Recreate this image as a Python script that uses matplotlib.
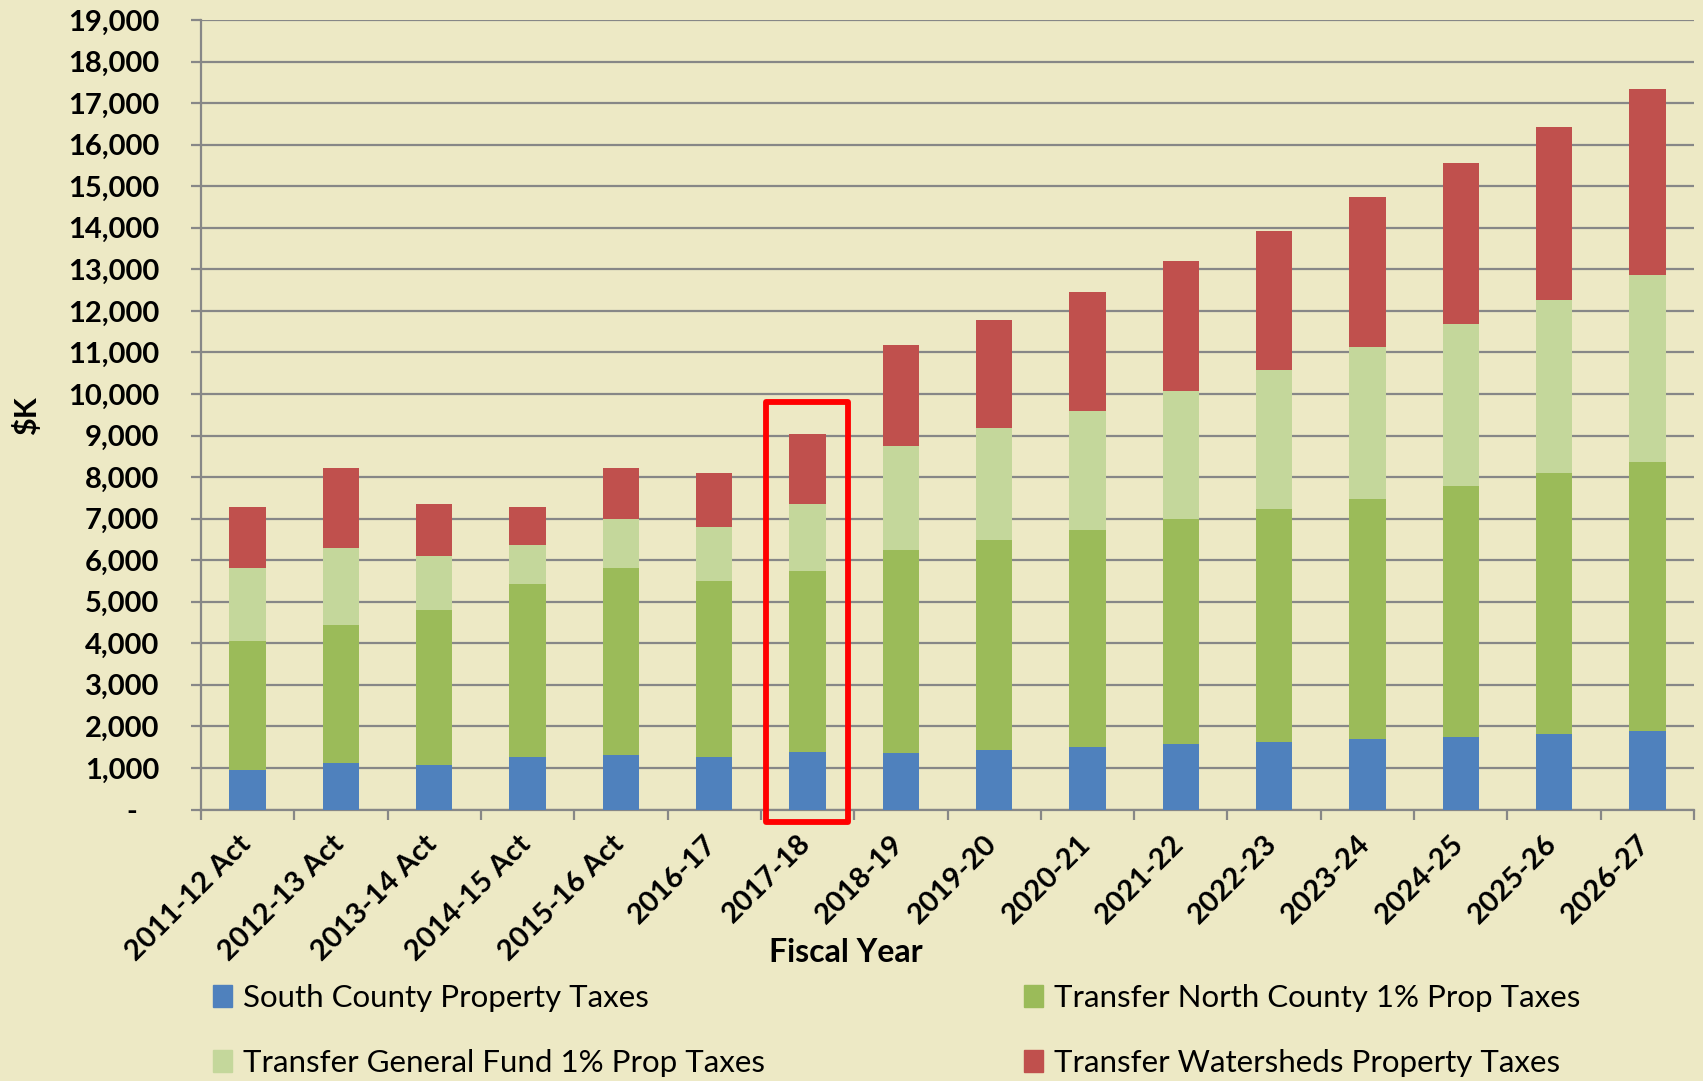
import matplotlib
matplotlib.use("Agg")
import matplotlib.pyplot as plt
import numpy as np
from matplotlib.patches import Rectangle, Patch
from matplotlib.ticker import FuncFormatter, FixedLocator
from matplotlib.transforms import ScaledTranslation

# data ($K)
years = ['2011-12 Act', '2012-13 Act', '2013-14 Act', '2014-15 Act', '2015-16 Act',
         '2016-17', '2017-18', '2018-19', '2019-20', '2020-21', '2021-22',
         '2022-23', '2023-24', '2024-25', '2025-26', '2026-27']
south_county = [950, 1130, 1070, 1260, 1310, 1260, 1380, 1370, 1430, 1500,
                1570, 1620, 1690, 1750, 1820, 1890]
north_county = [3110, 3300, 3720, 4160, 4490, 4230, 4350, 4870, 5060, 5230,
                5420, 5610, 5790, 6030, 6280, 6480]
general_fund = [1740, 1870, 1310, 940, 1190, 1310, 1620, 2510, 2680, 2860,
                3090, 3340, 3660, 3910, 4160, 4500]
watersheds = [1490, 1920, 1250, 930, 1240, 1300, 1690, 2420, 2620, 2860,
              3130, 3360, 3590, 3870, 4170, 4480]
highlight = '2017-18'

series = [
    ('South County Property Taxes', south_county, '#4F81BD'),
    ('Transfer North County 1% Prop Taxes', north_county, '#9BBB59'),
    ('Transfer General Fund 1% Prop Taxes', general_fund, '#C4D79B'),
    ('Transfer Watersheds Property Taxes', watersheds, '#C0504D'),
]

bg = '#EDE9C5'
grid_c = '#878787'
W, H = 1703, 1081

fig = plt.figure(figsize=(W / 100, H / 100), dpi=100, facecolor=bg)
ax = fig.add_axes([201 / W, 1 - 809.5 / H, 1493 / W, 789.5 / H])
ax.set_facecolor(bg)

x = np.arange(len(years))
bottom = np.zeros(len(years))
for name, vals, col in series:
    ax.bar(x, vals, width=0.39, bottom=bottom, color=col, label=name, zorder=3)
    bottom += np.array(vals)

ax.set_xlim(-0.5, len(years) - 0.5)
ax.set_ylim(0, 19000)
ax.set_yticks(np.arange(0, 19001, 1000))
ax.yaxis.set_major_formatter(FuncFormatter(lambda v, p: f"{v:,.0f}" if v else "-   "))
ax.grid(axis='y', color=grid_c, linewidth=1.6, zorder=1)
ax.set_axisbelow(True)

for s in ['top', 'right']:
    ax.spines[s].set_visible(False)
for s in ['left', 'bottom']:
    ax.spines[s].set_color(grid_c)
    ax.spines[s].set_linewidth(1.6)

tick_font = dict(family='Lato', weight='bold', size=21)
ax.tick_params(axis='y', length=7, width=1.6, color=grid_c, pad=23)
for lbl in ax.get_yticklabels():
    lbl.set_fontproperties(matplotlib.font_manager.FontProperties(**tick_font))

ax.set_xticks(x)
ax.set_xticklabels(years, rotation=45, ha='right', va='top', **tick_font)
ax.tick_params(axis='x', which='major', length=0, pad=15)
ax.xaxis.set_minor_locator(FixedLocator(np.arange(-0.5, len(years), 1)))
ax.tick_params(axis='x', which='minor', length=7, width=1.6, color=grid_c)
shift = ScaledTranslation(8 / 100, 0, fig.dpi_scale_trans)
for lbl in ax.get_xticklabels():
    lbl.set_transform(lbl.get_transform() + shift)

# red box around the current year
i = years.index(highlight)
ax.add_patch(Rectangle((i - 0.445, -300), 0.88, 10100, fill=False, edgecolor='#FF0000',
                       linewidth=4.2, joinstyle='round', clip_on=False, zorder=5))

fig.text(846 / W, 1 - 953 / H, 'Fiscal Year', ha='center', va='center',
         family='Lato', weight='bold', size=23)
fig.text(27 / W, 1 - 416 / H, '$K', ha='center', va='center', rotation=90,
         family='Lato', weight='bold', size=22)

# legend in two columns
handles = [Patch(color=c, label=n) for n, v, c in series]
leg_kw = dict(frameon=False, prop=dict(family='Lato', size=22.5), handlelength=0.62,
              handleheight=0.7, handletextpad=0.35, labelspacing=1.18,
              borderpad=0, borderaxespad=0, loc='upper left')
fig.legend(handles=[handles[0], handles[2]], bbox_to_anchor=(213 / W, 1 - 984 / H), **leg_kw)
fig.legend(handles=[handles[1], handles[3]], bbox_to_anchor=(1024 / W, 1 - 984 / H), **leg_kw)

fig.savefig('out.png', dpi=100, facecolor=bg)
